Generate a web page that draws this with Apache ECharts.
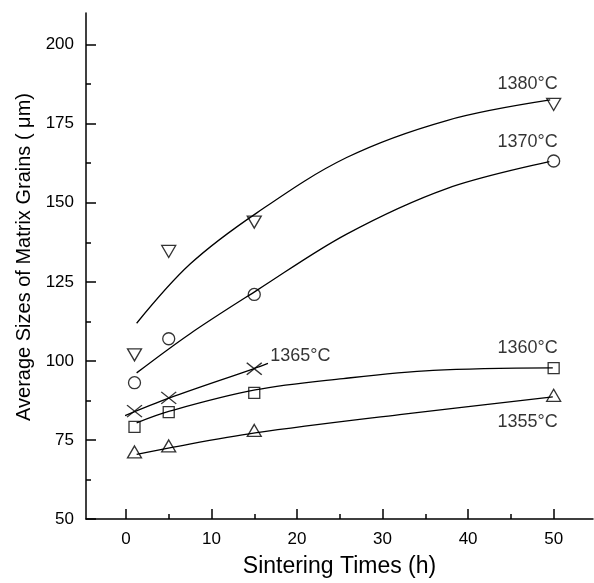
<!DOCTYPE html>
<html>
<head>
<meta charset="utf-8">
<script src="https://cdn.jsdelivr.net/npm/echarts@6/dist/echarts.min.js"></script>
<style>
  html, body { margin: 0; padding: 0; background: #fff; }
  #main { width: 594px; height: 583px; }
</style>
</head>
<body>
<div id="main"></div>
<script>
// measured points (h, um)
const timesH = [1, 5, 15, 50]
const times1365 = [1, 5, 15]
const grain1355 = [71.2, 73.1, 78.0, 89.1]
const grain1360 = [79.1, 83.8, 89.9, 97.7]
const grain1365 = [84.1, 88.3, 97.5]
const grain1370 = [93.1, 107.0, 121.0, 163.2]
const grain1380 = [101.9, 134.6, 143.9, 181.1]

// fitted curves
const fit1380X = [1.25, 7.5, 15.3, 25.8, 37.5, 49.6]
const fit1380Y = [111.9, 130.6, 146.8, 164.3, 176.0, 182.5]
const fit1370X = [1.25, 7.5, 15.3, 25.8, 37.5, 49.5]
const fit1370Y = [96.2, 108.6, 122.3, 140.1, 154.5, 163.0]
const fit1365X = [-0.1, 5.1, 14.9, 16.6]
const fit1365Y = [82.7, 88.3, 97.5, 99.2]
const fit1360X = [1.25, 5.1, 15.1, 25.4, 35.9, 49.9]
const fit1360Y = [80.4, 84.1, 90.8, 94.4, 97.0, 97.8]
const fit1355X = [1.25, 5.1, 15.1, 32.0, 49.9]
const fit1355Y = [70.4, 72.5, 77.2, 83.0, 88.6]

const xMajor = [0, 10, 20, 30, 40, 50]
const xMinor = [5, 15, 25, 35, 45]
const yMajor = [50, 75, 100, 125, 150, 175, 200]
const yMinor = [62.5, 87.5, 112.5, 137.5, 162.5, 187.5]

const font = "'Liberation Sans', Arial, sans-serif"
const black = '#000'

const zip = (xs, ys) => xs.map((x, i) => [x, ys[i]])

const hollow = { color: 'rgba(0,0,0,0)', borderColor: black, borderWidth: 1.3 }

const markerSeries = (name, xs, ys, symbol, size, labelOffset) => {
  const data = zip(xs, ys).map((p, i) => {
    if (i !== xs.length - 1) return p
    return {
      value: p,
      label: {
        show: true,
        position: 'inside',
        offset: labelOffset,
        formatter: name,
        color: black,
        fontFamily: font,
        fontSize: 18
      }
    }
  })
  return {
    name: name,
    type: 'scatter',
    symbol: symbol,
    symbolSize: size,
    itemStyle: hollow,
    data: data,
    z: 3
  }
}

const curveSeries = (xs, ys) => ({
  type: 'line',
  smooth: 0.35,
  showSymbol: false,
  symbol: 'none',
  lineStyle: { color: black, width: 1.3 },
  data: zip(xs, ys),
  silent: true,
  z: 2
})

const myCharts = echarts.init(document.getElementById('main'))

const tickStyle = { color: black, width: 1.5 }

const options = {
  animation: false,
  backgroundColor: '#fff',
  grid: { left: 86, right: 1, top: 13, bottom: 64 },
  xAxis: [
    {
      type: 'value',
      position: 'bottom',
      min: -4.67,
      max: 54.6,
      name: 'Sintering Times (h)',
      nameLocation: 'middle',
      nameGap: 36,
      nameTextStyle: { color: black, fontFamily: font, fontSize: 23 },
      axisLine: { show: true, onZero: false, lineStyle: { color: black, width: 1.5 } },
      axisTick: { show: true, inside: true, length: 10, customValues: xMajor, lineStyle: tickStyle },
      axisLabel: { customValues: xMajor, color: black, fontFamily: font, fontSize: 17, margin: 12 },
      splitLine: { show: false }
    },
    {
      // minor ticks only
      type: 'value',
      position: 'bottom',
      min: -4.67,
      max: 54.6,
      axisLine: { show: false, onZero: false },
      axisTick: { show: true, inside: true, length: 5, customValues: xMinor, lineStyle: tickStyle },
      axisLabel: { show: false },
      splitLine: { show: false }
    }
  ],
  yAxis: [
    {
      type: 'value',
      min: 50,
      max: 210,
      name: 'Average Sizes of Matrix Grains ( \u03bcm)',
      nameLocation: 'middle',
      nameGap: 50,
      nameTextStyle: { color: black, fontFamily: font, fontSize: 20, padding: [0, 0, 0, 18] },
      axisLine: { show: true, onZero: false, lineStyle: { color: black, width: 1.5 } },
      axisTick: { show: true, inside: true, length: 10, customValues: yMajor, lineStyle: tickStyle },
      axisLabel: { customValues: yMajor, color: black, fontFamily: font, fontSize: 17, margin: 12 },
      splitLine: { show: false }
    },
    {
      // minor ticks only
      type: 'value',
      position: 'left',
      min: 50,
      max: 210,
      axisLine: { show: false, onZero: false },
      axisTick: { show: true, inside: true, length: 5, customValues: yMinor, lineStyle: tickStyle },
      axisLabel: { show: false },
      splitLine: { show: false }
    }
  ],
  series: [
    curveSeries(fit1380X, fit1380Y),
    curveSeries(fit1370X, fit1370Y),
    curveSeries(fit1365X, fit1365Y),
    curveSeries(fit1360X, fit1360Y),
    curveSeries(fit1355X, fit1355Y),
    markerSeries('1380°C', timesH, grain1380, 'path://M0,0L10,0L5,9Z', [14, 12], [-26, -20]),
    markerSeries('1370°C', timesH, grain1370, 'circle', 12, [-26, -19]),
    markerSeries('1365°C', times1365, grain1365, 'path://M0,0L12,10M12,0L0,10', [15, 12], [46, -13]),
    markerSeries('1360°C', timesH, grain1360, 'rect', 11, [-26, -20]),
    markerSeries('1355°C', timesH, grain1355, 'triangle', [14, 12], [-26, 27])
  ]
}

myCharts.setOption(options)
</script>
</body>
</html>
